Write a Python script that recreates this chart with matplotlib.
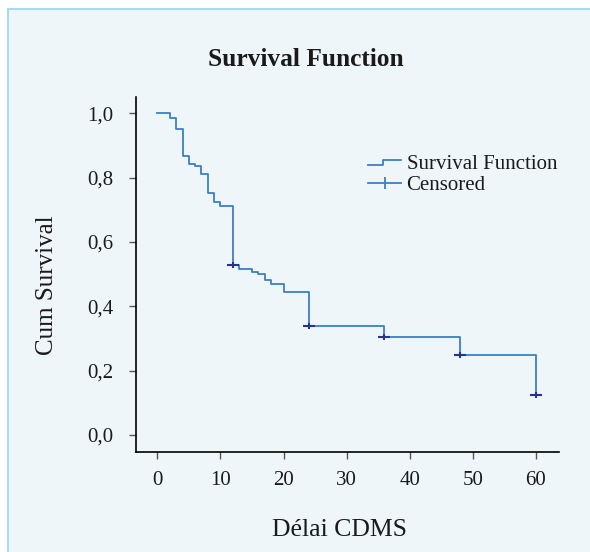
import matplotlib
matplotlib.use("Agg")
import matplotlib.pyplot as plt
from matplotlib.lines import Line2D
from matplotlib.patches import Rectangle
from matplotlib.legend_handler import HandlerBase

# ---- data ----
times = [0, 2, 3, 4, 5, 6, 7, 8, 9, 10, 12, 13, 15, 16, 17, 18, 20, 24, 36, 48, 60]
surv = [1.0, 0.985, 0.951, 0.868, 0.842, 0.836, 0.812, 0.754, 0.726, 0.713,
        0.527, 0.516, 0.507, 0.500, 0.482, 0.468, 0.446, 0.339, 0.305, 0.249, 0.123]
censor_times = [12, 24, 36, 48, 60]
censor_surv = [0.527, 0.339, 0.305, 0.249, 0.123]
x_ticks = [0, 10, 20, 30, 40, 50, 60]
y_ticks = [0.0, 0.2, 0.4, 0.6, 0.8, 1.0]
y_tick_labels = ["0,0", "0,2", "0,4", "0,6", "0,8", "1,0"]

plt.rcParams['font.family'] = ['Liberation Serif', 'DejaVu Serif']

W, H = 590, 552
BG = '#eff6fa'
LINE = '#3b7fc6'
MARK = '#27348b'

fig = plt.figure(figsize=(W / 100, H / 100), dpi=100, facecolor='white')
# light blue panel with border on top/left
fig.patches.append(Rectangle((8 / W, -0.01), 1.02, 1 - 9 / H + 0.01, transform=fig.transFigure,
                             facecolor=BG, edgecolor='#a9d9f0', linewidth=1.5, zorder=-10))

ax_l, ax_b, ax_w, ax_h = 136, 452, 559 - 136, 452 - 97
ax = fig.add_axes([ax_l / W, 1 - ax_b / H, ax_w / W, ax_h / H])
ax.set_facecolor('none')

ax.step(times, surv, where='post', color=LINE, linewidth=1.3, zorder=3)
ax.plot(censor_times, censor_surv, linestyle='none', marker='_', markersize=8,
        markeredgewidth=1.5, color=MARK, zorder=4)
ax.plot(censor_times, censor_surv, linestyle='none', marker='|', markersize=4,
        markeredgewidth=1.5, color=MARK, zorder=4)

ax.set_xlim(-3.38, 63.66)
ax.set_ylim(-0.053, 1.051)
ax.set_xticks(x_ticks)
ax.set_xticklabels([str(v) for v in x_ticks])
ax.set_yticks(y_ticks)
ax.set_yticklabels(y_tick_labels)

for s in ['top', 'right']:
    ax.spines[s].set_visible(False)
for s in ['left', 'bottom']:
    ax.spines[s].set_linewidth(1.2)
    ax.spines[s].set_color('black')

ax.tick_params(axis='both', direction='out', length=5, width=1.0, color='#555555',
               labelsize=15, labelcolor='#1a1a1a')
ax.tick_params(axis='y', pad=11)
ax.tick_params(axis='x', pad=9)

ax.set_xlabel('Délai CDMS', fontsize=18.5, color='#1a1a1a')
ax.xaxis.set_label_coords((339 - ax_l) / ax_w, (ax_b - 536) / ax_h)
ax.xaxis.label.set_va('baseline')
ax.set_ylabel('Cum Survival', fontsize=18, color='#1a1a1a')
ax.yaxis.set_label_coords((47 - ax_l) / ax_w, (ax_b - 285) / ax_h)
ax.yaxis.label.set_va('center')

fig.text(306 / W, 1 - 66 / H, 'Survival Function', fontsize=18.3, fontweight='bold',
         ha='center', va='baseline', color='#1a1a1a')


class StepHandler(HandlerBase):
    def create_artists(self, legend, orig_handle, xdescent, ydescent, width, height,
                       fontsize, trans):
        x0 = -xdescent
        lo = -ydescent + height * 0.25
        hi = -ydescent + height * 0.6
        xs = [x0, x0 + width * 0.44, x0 + width * 0.44, x0 + width]
        ys = [lo, lo, hi, hi]
        ln = Line2D(xs, ys, color=orig_handle.get_color(), linewidth=1.3)
        ln.set_transform(trans)
        return [ln]


h_surv = Line2D([], [], color=LINE, linewidth=1.3)
h_cens = Line2D([], [], color=LINE, linewidth=1.3, marker='|', markersize=9,
                markeredgewidth=1.3)
leg = ax.legend([h_surv, h_cens], ['Survival Function', 'Censored'],
                loc='upper left', bbox_to_anchor=(368 / W, 1 - 154 / H),
                bbox_transform=fig.transFigure, frameon=False, fontsize=15,
                handlelength=1.6, handletextpad=0.25, labelspacing=0.1,
                borderpad=0, borderaxespad=0,
                handler_map={h_surv: StepHandler()})
for t in leg.get_texts():
    t.set_color('#1a1a1a')

fig.savefig('out.png', dpi=100, facecolor='white')
